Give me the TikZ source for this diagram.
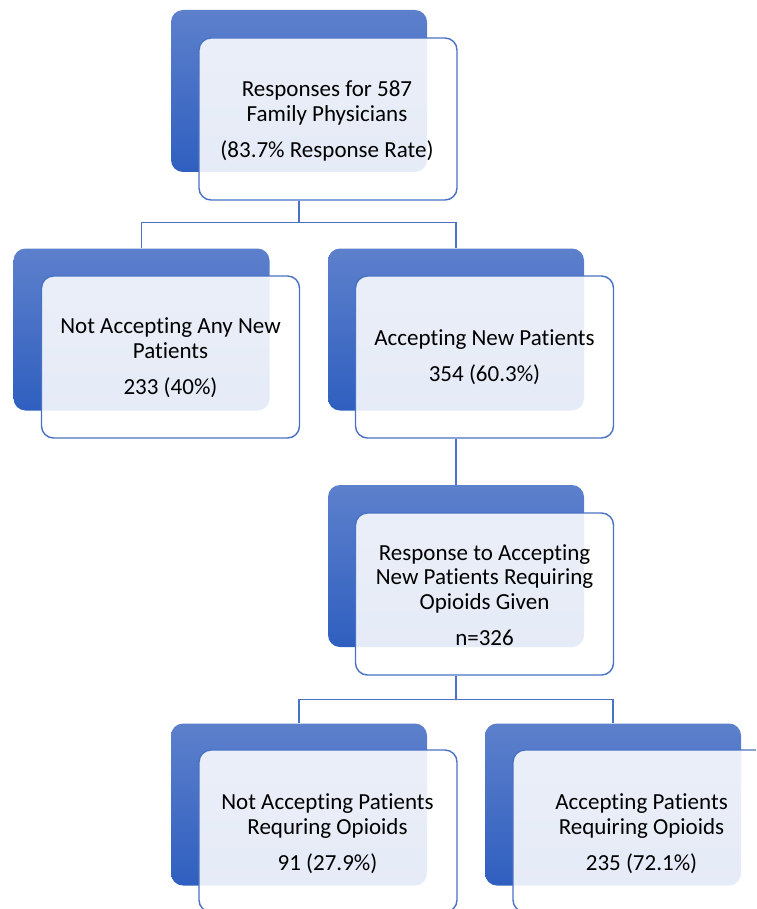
\documentclass[tikz,border=0pt]{standalone}
\usepackage{fontspec}
\setmainfont{Carlito}[Ligatures={CommonOff,ContextualOff},RawFeature={-liga;-clig;-calt}]
\usetikzlibrary{calc}
\definecolor{topblue}{HTML}{5D80CC}
\definecolor{botblue}{HTML}{2F5FBF}
\definecolor{edgeblue}{HTML}{4A72C4}
\tikzset{
  backbox/.style={minimum width=256pt, minimum height=162pt, inner sep=0pt,
    rounded corners=12pt, top color=topblue, bottom color=botblue, draw=none},
  frontbox/.style={minimum width=258pt, minimum height=162pt, inner sep=0pt,
    rounded corners=12pt, draw=edgeblue, line width=1.4pt, fill=white, fill opacity=0.88},
  txt/.style={align=center, text=black, font=\fontsize{23}{24.5}\selectfont, inner sep=0pt},
  conn/.style={draw=edgeblue, line width=1.4pt}
}
\begin{document}
\begin{tikzpicture}[x=1pt,y=-1pt]
\useasboundingbox (0,0) rectangle (756,909);
\clip (0,0) rectangle (756,909);
% row 1
\node[backbox]  (b1) at (299,91) {};
\node[frontbox] (f1) at (328,119) {};
\node[txt] (t1) at (327,121) {Responses for 587\\Family Physicians\\[12pt](83.7\% Response Rate)};
% row 2
\node[backbox]  (b2) at (141.5,329.5) {};
\node[frontbox] (f2) at (170.5,357) {};
\node[txt] (t2) at (170.5,358) {Not Accepting Any New\\Patients\\[12pt]233 (40\%)};
\node[backbox]  (b3) at (456,329.5) {};
\node[frontbox] (f3) at (484.5,357) {};
\node[txt] (t3) at (484.5,357) {Accepting New Patients\\[12pt]354 (60.3\%)};
% row 3
\node[backbox]  (b4) at (456,566) {};
\node[frontbox] (f4) at (484.5,594) {};
\node[txt] (t4) at (484.5,595) {Response to Accepting\\New Patients Requiring\\Opioids Given\\[12pt]n=326};
% row 4
\node[backbox]  (b5) at (299,804.5) {};
\node[frontbox] (f5) at (328,831) {};
\node[txt] (t5) at (327.5,834) {Not Accepting Patients\\Requring Opioids\\[12pt]91 (27.9\%)};
\node[backbox]  (b6) at (613,804.5) {};
\node[frontbox] (f6) at (642,831) {};
\node[txt] (t6) at (641.5,834) {Accepting Patients\\Requiring Opioids\\[12pt]235 (72.1\%)};
% connectors
\draw[conn] (b1.center |- f1.south) -- ++(0,22) coordinate (j1) -| (b2.north);
\draw[conn] (j1) -| (b3.north);
\draw[conn] (b3.center |- f3.south) -- (b4.north);
\draw[conn] (b4.center |- f4.south) -- ++(0,24) coordinate (j2) -| (b5.north);
\draw[conn] (j2) -| (b6.north);
\end{tikzpicture}
\end{document}
